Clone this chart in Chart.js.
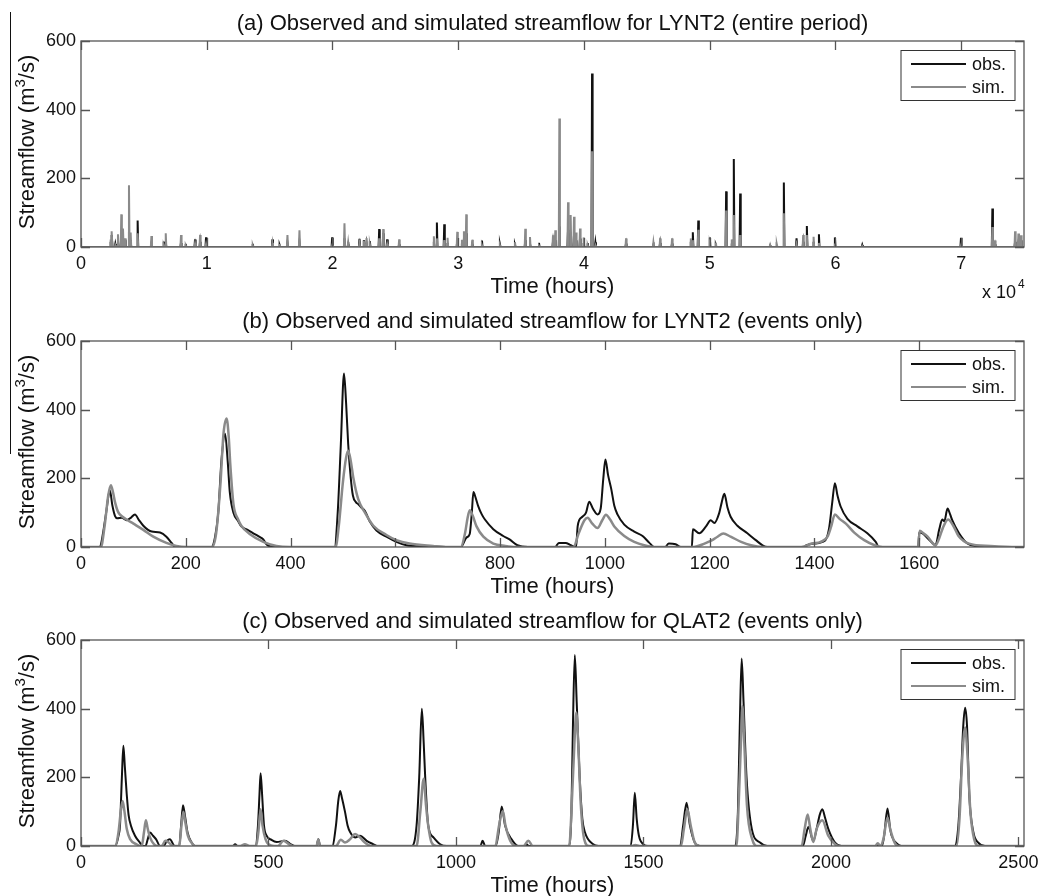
<!DOCTYPE html>
<html>
<head>
<meta charset="utf-8">
<title>Observed and simulated streamflow</title>
<script src="https://cdn.jsdelivr.net/npm/chart.js@4.4.1/dist/chart.umd.min.js"></script>
<style>
    html, body { margin: 0; padding: 0; background: #fff; }
    #figure { position: relative; width: 1038px; height: 896px; overflow: hidden; background: #fff; }
    #figure canvas { position: absolute; left: 0; }
    #margin-rule { position: absolute; left: 10px; top: 12px; width: 1px; height: 442px; background: #111; }
</style>
</head>
<body>
<div id="figure">
    <canvas id="panelA" width="1038" height="300" style="top:0"></canvas>
    <canvas id="panelB" width="1038" height="300" style="top:300px"></canvas>
    <canvas id="panelC" width="1038" height="297" style="top:599px"></canvas>
    <div id="margin-rule"></div>
</div>
<script>
// (a) LYNT2 entire period: event peak times (hours) and peak flows (m3/s)
const aHours = [
    2360, 2460, 2730, 2940, 3205, 3340, 3520, 3815, 3950, 4505,
    5600, 6580, 6740, 7955, 8330, 9070, 9470, 9945, 13660, 15225,
    15800, 16420, 17375, 19975, 20955, 21250, 22150, 22495, 22710, 22975,
    23715, 24035, 24350, 25305, 28065, 28305, 28890, 29155, 29925, 30295,
    30455, 30640, 31120, 31890, 33320, 34515, 35335, 35710, 36425, 37540,
    37725, 38045, 38735, 38945, 39210, 39370, 39690, 39980, 40300, 40645,
    40910, 43350, 45525, 46060, 47010, 48500, 48660, 49095, 50010, 50490,
    51310, 51760, 51920, 52425, 54810, 55340, 55900, 56910, 57440, 57730,
    58265, 58690, 59960, 62135, 69990, 72485, 72695, 74290, 74555, 74765
];
const aObs = [
    15, 35, 9, 15, 40, 30, 20, 45, 20, 77,
    10, 16, 15, 12, 9, 22, 15, 28, 9, 22,
    5, 12, 15, 28, 25, 8, 24, 20, 12, 17,
    52, 40, 22, 8, 15, 71, 66, 12, 20, 10,
    25, 40, 8, 19, 8, 6, 20, 10, 12, 15,
    20, 60, 50, 40, 35, 20, 25, 12, 11, 505,
    14, 10, 6, 12, 10, 15, 43, 77, 28, 5,
    162, 10, 256, 156, 4, 3, 188, 25, 15, 61,
    15, 37, 28, 6, 27, 112, 8, 15, 12, 20
];
const aSim = [
    22, 46, 5, 37, 95, 54, 25, 180, 42, 40,
    32, 5, 40, 35, 4, 10, 35, 8, 5, 12,
    9, 35, 49, 5, 69, 14, 10, 18, 26, 8,
    25, 52, 8, 22, 31, 25, 20, 27, 44, 21,
    46, 95, 21, 5, 5, 14, 53, 29, 3, 34,
    49, 374, 130, 93, 88, 42, 54, 28, 5, 279,
    5, 25, 14, 25, 25, 25, 20, 50, 8, 13,
    106, 22, 93, 35, 6, 8, 98, 8, 35, 35,
    30, 12, 10, 3, 5, 58, 19, 46, 39, 34
];
const aTicks = [0, 10000, 20000, 30000, 40000, 50000, 60000, 70000];
const aTickLabels = ['0', '1', '2', '3', '4', '5', '6', '7'];

// (b) LYNT2 events only: [hour, flow]
const bObs = [
    [0, 0], [36, 0], [42, 40], [48, 100], [55, 165], [60, 120], [65, 90], [69, 84], [78, 85], [87, 78], [95, 85], [103, 95], [110, 80], [119, 62], [128, 50], [135, 45], [151, 42], [163, 30], [173, 12], [180, 0],
    [249, 0], [256, 30], [262, 100], [268, 250], [275, 330], [280, 250], [284, 160], [291, 100], [300, 75], [306, 60], [318, 50], [329, 40], [340, 30], [348, 22], [354, 8], [367, 0],
    [484, 0], [490, 100], [496, 300], [502, 505], [506, 420], [510, 300], [515, 200], [519, 150], [525, 130], [529, 125], [535, 115], [542, 105], [551, 75], [564, 48], [583, 30], [602, 15], [621, 5], [647, 2], [698, 0],
    [725, 0], [736, 28], [742, 38], [746, 100], [749, 160], [753, 145], [758, 120], [765, 95], [771, 80], [787, 52], [806, 32], [818, 22], [833, 5], [853, 0],
    [905, 0], [912, 12], [925, 12], [935, 5], [945, 0], [948, 60], [951, 78], [957, 88], [964, 100], [970, 132], [977, 112], [986, 95], [992, 112], [997, 200], [1001, 255], [1006, 210], [1012, 170], [1018, 120], [1024, 95], [1037, 65], [1056, 45], [1072, 32], [1085, 12], [1094, 0],
    [1115, 0], [1122, 10], [1135, 8], [1145, 0],
    [1166, 0], [1168, 52], [1180, 40], [1193, 60], [1202, 78], [1209, 70], [1218, 98], [1223, 130], [1228, 155], [1234, 115], [1240, 88], [1253, 62], [1272, 40], [1288, 20], [1301, 5], [1310, 0],
    [1380, 0], [1385, 5], [1399, 10], [1420, 18], [1428, 55], [1434, 130], [1439, 186], [1444, 150], [1450, 118], [1463, 82], [1482, 60], [1501, 40], [1517, 15], [1523, 0],
    [1598, 0], [1600, 42], [1608, 38], [1616, 25], [1625, 12], [1631, 5], [1638, 50], [1644, 80], [1648, 75], [1654, 112], [1659, 95], [1663, 78], [1676, 40], [1692, 10], [1711, 2], [1730, 0], [1800, 0]
];
const bSim = [
    [0, 0], [38, 0], [45, 60], [52, 150], [57, 180], [61, 160], [65, 130], [70, 105], [74, 95], [87, 80], [100, 68], [119, 50], [138, 30], [163, 12], [182, 3], [202, 0],
    [250, 0], [258, 40], [266, 180], [272, 330], [278, 374], [282, 320], [285, 240], [291, 125], [300, 80], [306, 62], [322, 38], [348, 15], [373, 3], [399, 0],
    [486, 0], [492, 60], [500, 190], [506, 260], [510, 280], [515, 250], [520, 200], [529, 140], [542, 100], [558, 62], [583, 35], [602, 20], [627, 10], [672, 3], [700, 0],
    [725, 0], [733, 40], [738, 85], [742, 107], [748, 90], [755, 60], [768, 30], [787, 10], [810, 3], [830, 0],
    [940, 0], [950, 40], [961, 78], [967, 85], [976, 68], [986, 55], [995, 78], [1002, 94], [1010, 80], [1018, 60], [1037, 32], [1056, 15], [1075, 5], [1094, 0],
    [1170, 0], [1190, 10], [1205, 20], [1215, 30], [1226, 39], [1240, 30], [1260, 15], [1279, 5], [1300, 0],
    [1375, 0], [1395, 10], [1412, 15], [1425, 30], [1432, 60], [1439, 95], [1448, 82], [1460, 68], [1476, 42], [1495, 20], [1515, 5], [1530, 0],
    [1598, 0], [1601, 47], [1608, 40], [1616, 30], [1631, 5], [1638, 25], [1645, 55], [1655, 80], [1665, 62], [1675, 32], [1695, 10], [1736, 3], [1787, 0], [1800, 0]
];
const bTicks = [0, 200, 400, 600, 800, 1000, 1200, 1400, 1600];

// (c) QLAT2 events only: [hour, flow]
const cObs = [
    [0, 0], [91, 0], [100, 30], [104, 60], [109, 200], [113, 292], [117, 230], [122, 150], [127, 90], [133, 60], [144, 30], [157, 10], [166, 0],
    [172, 0], [178, 20], [184, 39], [192, 30], [200, 20], [211, 0],
    [220, 0], [229, 15], [237, 20], [250, 0],
    [262, 0], [267, 60], [272, 119], [277, 90], [284, 40], [295, 10], [304, 0],
    [405, 0], [411, 5], [418, 0],
    [465, 0], [472, 60], [476, 150], [479, 212], [483, 150], [488, 60], [495, 30], [508, 18], [522, 12], [544, 15], [560, 5], [570, 0],
    [628, 0], [633, 20], [638, 0],
    [670, 0], [680, 60], [686, 130], [691, 160], [696, 140], [704, 100], [711, 60], [718, 40], [731, 25], [744, 30], [762, 15], [780, 5], [790, 0],
    [882, 0], [895, 60], [902, 200], [909, 400], [914, 300], [918, 200], [926, 60], [940, 25], [958, 5], [975, 0],
    [1065, 0], [1071, 15], [1078, 0],
    [1106, 0], [1114, 40], [1122, 115], [1131, 60], [1148, 20], [1166, 0],
    [1185, 0], [1188, 5], [1195, 0],
    [1300, 0], [1308, 100], [1312, 350], [1317, 556], [1322, 420], [1330, 200], [1337, 80], [1344, 40], [1366, 5], [1380, 0],
    [1466, 0], [1472, 60], [1477, 155], [1482, 80], [1488, 30], [1500, 5], [1512, 0],
    [1598, 0], [1606, 60], [1615, 126], [1624, 60], [1637, 10], [1650, 0],
    [1745, 0], [1752, 100], [1757, 350], [1762, 546], [1767, 420], [1775, 200], [1789, 50], [1811, 10], [1830, 0],
    [1925, 0], [1933, 30], [1940, 55], [1953, 15], [1962, 50], [1970, 90], [1977, 107], [1985, 80], [1993, 50], [2011, 10], [2028, 0],
    [2136, 0], [2142, 30], [2151, 109], [2158, 50], [2162, 30], [2178, 5], [2188, 0],
    [2330, 0], [2340, 60], [2347, 200], [2353, 350], [2358, 403], [2363, 350], [2369, 150], [2380, 40], [2393, 10], [2411, 0], [2515, 0]
];
const cSim = [
    [0, 0], [91, 0], [100, 40], [106, 100], [111, 131], [116, 100], [122, 50], [131, 20], [148, 5], [160, 0],
    [162, 0], [168, 40], [173, 75], [178, 50], [184, 25], [195, 5], [205, 0],
    [215, 0], [225, 15], [234, 10], [246, 0],
    [262, 0], [268, 60], [273, 100], [278, 70], [285, 30], [296, 8], [304, 0],
    [425, 0], [437, 5], [450, 0],
    [467, 0], [473, 40], [479, 107], [484, 60], [492, 20], [500, 5], [515, 0],
    [525, 0], [540, 15], [555, 5], [565, 0],
    [628, 0], [633, 19], [637, 0],
    [680, 0], [693, 18], [704, 10], [718, 20], [731, 35], [744, 25], [757, 10], [775, 0],
    [895, 0], [905, 100], [914, 196], [920, 120], [926, 60], [935, 10], [948, 0],
    [1105, 0], [1115, 60], [1125, 102], [1132, 60], [1145, 15], [1160, 0],
    [1180, 0], [1193, 15], [1205, 0],
    [1302, 0], [1310, 150], [1316, 300], [1321, 389], [1326, 300], [1333, 120], [1342, 20], [1355, 0],
    [1470, 0], [1478, 3], [1490, 0],
    [1600, 0], [1608, 50], [1617, 107], [1626, 60], [1637, 10], [1650, 0],
    [1748, 0], [1755, 150], [1760, 300], [1764, 408], [1769, 300], [1776, 120], [1790, 20], [1805, 0],
    [1922, 0], [1930, 50], [1938, 92], [1945, 50], [1953, 12], [1962, 50], [1977, 75], [1993, 30], [2011, 5], [2020, 0],
    [2118, 0], [2125, 8], [2132, 0], [2140, 20], [2151, 83], [2158, 50], [2170, 10], [2180, 0],
    [2335, 0], [2343, 80], [2350, 250], [2358, 345], [2365, 250], [2372, 100], [2382, 20], [2395, 0], [2515, 0]
];
const cTicks = [0, 500, 1000, 1500, 2000, 2500];

const yTicks = [0, 200, 400, 600];

const FONT = "'Liberation Sans', Arial, Helvetica, sans-serif";
const OBS_COLOR = '#111111';
const SIM_COLOR = '#8a8a8a';
const TICK_LEN = 9;

// Pairs -> {x, y} points
const toPoints = (pairs) => pairs.map(([x, y]) => ({ x, y }));

// Turn peak list into narrow spikes sitting on a zero baseline
function spikeSeries(hours, flows, halfWidth, xMax) {
    const pts = [{ x: 0, y: 0 }];
    hours.forEach((h, i) => {
        pts.push({ x: h - halfWidth, y: 0 }, { x: h, y: flows[i] }, { x: h + halfWidth, y: 0 });
    });
    pts.push({ x: xMax, y: 0 });
    return pts;
}

// Draw text with a raised superscript part, centred on (0,0) of current transform
function drawSuperText(ctx, before, sup, after, size, supSize, rise) {
    ctx.font = `${size}px ${FONT}`;
    const w1 = ctx.measureText(before).width;
    const w3 = ctx.measureText(after).width;
    ctx.font = `${supSize}px ${FONT}`;
    const w2 = ctx.measureText(sup).width;
    let x = -(w1 + w2 + w3) / 2;
    ctx.textAlign = 'left';
    ctx.font = `${size}px ${FONT}`;
    ctx.fillText(before, x, 0);
    x += w1;
    ctx.font = `${supSize}px ${FONT}`;
    ctx.fillText(sup, x, -rise);
    x += w2;
    ctx.font = `${size}px ${FONT}`;
    ctx.fillText(after, x, 0);
}

// Box, inward ticks, legend, titles
const panelPlugin = {
    id: 'panel',
    afterDatasetsDraw(chart, args, opts) {
        const { ctx, chartArea: area, scales: { x, y } } = chart;
        ctx.save();

        ctx.strokeStyle = '#555';
        ctx.lineWidth = 1.3;
        ctx.strokeRect(area.left, area.top, area.right - area.left, area.bottom - area.top);

        ctx.beginPath();
        x.ticks.forEach(t => {
            const px = Math.round(x.getPixelForValue(t.value)) + 0.5;
            ctx.moveTo(px, area.bottom); ctx.lineTo(px, area.bottom - TICK_LEN);
            ctx.moveTo(px, area.top); ctx.lineTo(px, area.top + TICK_LEN);
        });
        y.ticks.forEach(t => {
            const py = Math.round(y.getPixelForValue(t.value)) + 0.5;
            ctx.moveTo(area.left, py); ctx.lineTo(area.left + TICK_LEN, py);
            ctx.moveTo(area.right, py); ctx.lineTo(area.right - TICK_LEN, py);
        });
        ctx.stroke();

        // legend
        const lx = area.right - 123;
        const ly = area.top + 9.5;
        ctx.fillStyle = '#fff';
        ctx.fillRect(lx, ly, 114, 50);
        ctx.strokeStyle = '#333';
        ctx.lineWidth = 1;
        ctx.strokeRect(lx, ly, 114, 50);
        chart.data.datasets.forEach((ds, i) => {
            const yy = ly + 13.5 + i * 23;
            ctx.strokeStyle = ds.borderColor;
            ctx.lineWidth = 2;
            ctx.beginPath();
            ctx.moveTo(lx + 10, yy);
            ctx.lineTo(lx + 65, yy);
            ctx.stroke();
            ctx.fillStyle = '#111';
            ctx.font = `18px ${FONT}`;
            ctx.textAlign = 'left';
            ctx.textBaseline = 'middle';
            ctx.fillText(ds.label, lx + 71, yy + 1.5);
        });

        // titles
        ctx.fillStyle = '#111';
        ctx.textBaseline = 'alphabetic';
        ctx.textAlign = 'center';
        ctx.font = `22px ${FONT}`;
        const cx = (area.left + area.right) / 2;
        ctx.fillText(opts.title, cx, opts.titleBaseline);
        ctx.fillText('Time (hours)', cx, area.bottom + 46);

        ctx.save();
        ctx.translate(34, (area.top + area.bottom) / 2 - 2);
        ctx.rotate(-Math.PI / 2);
        drawSuperText(ctx, 'Streamflow (m', '3', '/s)', 22, 15, 9);
        ctx.restore();

        if (opts.exponent) {
            ctx.textAlign = 'right';
            ctx.font = `18px ${FONT}`;
            ctx.fillText('x 10', area.right - 8, area.bottom + 51);
            ctx.textAlign = 'left';
            ctx.font = `12px ${FONT}`;
            ctx.fillText(opts.exponent, area.right - 6, area.bottom + 41);
        }
        ctx.restore();
    }
};

function makePanel(canvasId, cfg) {
    const ctx = document.getElementById(canvasId).getContext('2d');
    const tickFont = { family: FONT, size: 18 };
    return new Chart(ctx, {
        type: 'line',
        data: {
            datasets: [
                {
                    label: 'obs.',
                    data: cfg.obs,
                    borderColor: OBS_COLOR,
                    borderWidth: cfg.obsWidth,
                    pointRadius: 0,
                    tension: 0,
                    cubicInterpolationMode: cfg.smooth ? 'monotone' : 'default',
                    order: 1
                },
                {
                    label: 'sim.',
                    data: cfg.sim,
                    borderColor: SIM_COLOR,
                    borderWidth: cfg.simWidth,
                    pointRadius: 0,
                    tension: 0,
                    cubicInterpolationMode: cfg.smooth ? 'monotone' : 'default',
                    order: 0
                }
            ]
        },
        options: {
            responsive: false,
            animation: false,
            devicePixelRatio: 1,
            layout: { padding: { top: 41, right: 14, left: 0, bottom: 0 } },
            scales: {
                x: {
                    type: 'linear',
                    min: 0,
                    max: cfg.xMax,
                    afterBuildTicks: (s) => { s.ticks = cfg.xTicks.map(v => ({ value: v })); },
                    afterFit: (s) => {
                        s.height = cfg.xAxisHeight;
                        // keep the plot box fixed even when the last label overhangs
                        s.paddingLeft = 0;
                        s.paddingRight = 0;
                    },
                    grid: { display: false, drawTicks: false },
                    border: { display: false },
                    ticks: {
                        color: '#111',
                        font: tickFont,
                        padding: 6,
                        maxRotation: 0,
                        autoSkip: false,
                        callback: (v) => cfg.xLabels[cfg.xTicks.indexOf(v)]
                    }
                },
                y: {
                    min: 0,
                    max: 600,
                    afterBuildTicks: (s) => { s.ticks = yTicks.map(v => ({ value: v })); },
                    afterFit: (s) => { s.width = 81; s.paddingTop = 0; s.paddingBottom = 0; },
                    grid: { display: false, drawTicks: false },
                    border: { display: false },
                    ticks: { color: '#111', font: tickFont, padding: 5 }
                }
            },
            plugins: {
                legend: { display: false },
                tooltip: { enabled: false },
                panel: { title: cfg.title, titleBaseline: cfg.titleBaseline, exponent: cfg.exponent }
            }
        },
        plugins: [panelPlugin]
    });
}

document.addEventListener('DOMContentLoaded', () => {
    makePanel('panelA', {
        title: '(a) Observed and simulated streamflow for LYNT2 (entire period)',
        titleBaseline: 30,
        obs: spikeSeries(aHours, aObs, 45, 75000),
        sim: spikeSeries(aHours, aSim, 45, 75000),
        obsWidth: 2,
        simWidth: 2,
        smooth: false,
        xMax: 75000,
        xTicks: aTicks,
        xLabels: aTickLabels,
        xAxisHeight: 53,
        exponent: '4'
    });
    makePanel('panelB', {
        title: '(b) Observed and simulated streamflow for LYNT2 (events only)',
        titleBaseline: 28,
        obs: toPoints(bObs),
        sim: toPoints(bSim),
        obsWidth: 2,
        simWidth: 2.5,
        smooth: true,
        xMax: 1800,
        xTicks: bTicks,
        xLabels: bTicks.map(String),
        xAxisHeight: 53
    });
    makePanel('panelC', {
        title: '(c) Observed and simulated streamflow for QLAT2 (events only)',
        titleBaseline: 29,
        obs: toPoints(cObs),
        sim: toPoints(cSim),
        obsWidth: 2,
        simWidth: 2.5,
        smooth: true,
        xMax: 2515,
        xTicks: cTicks,
        xLabels: cTicks.map(String),
        xAxisHeight: 50
    });
});
</script>
</body>
</html>
